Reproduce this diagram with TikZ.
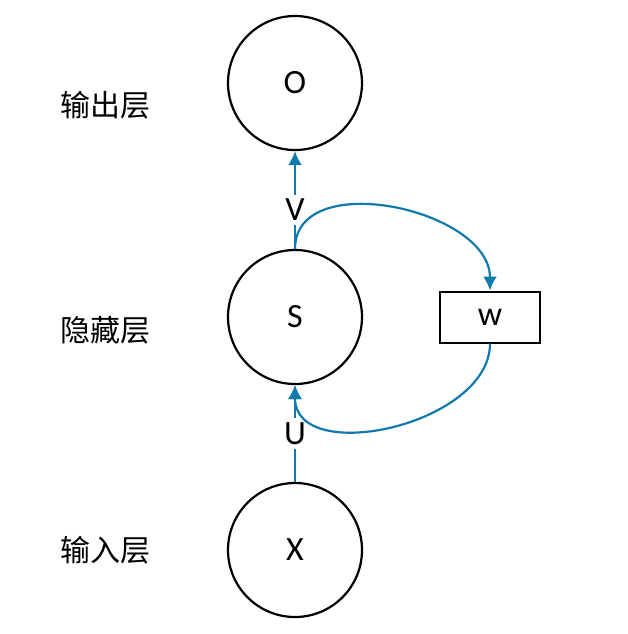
\documentclass[tikz,border=0pt]{standalone}
\usepackage{fontspec}
\setmainfont{Carlito}
\newfontfamily\cjkfont{Noto Sans CJK SC}
\usetikzlibrary{arrows.meta}
\definecolor{LinkClr}{RGB}{16,122,172}

\begin{document}
\begin{tikzpicture}[x=0.5pt,y=-0.5pt,
  unit/.style={circle,draw,line width=1.1pt,minimum size=67pt,inner sep=0pt,font=\fontsize{17}{19}\selectfont},
  wbox/.style={draw,line width=1pt,minimum width=50pt,minimum height=25.5pt,inner sep=0pt,font=\fontsize{17}{19}\selectfont},
  link/.style={draw=LinkClr,line width=1.1pt,-{Latex[length=7pt,width=7pt]}},
  wlabel/.style={fill=white,inner sep=2pt,font=\fontsize{17}{19}\selectfont},
  layername/.style={font=\cjkfont\fontsize{15}{17}\selectfont}]
\useasboundingbox (0,0) rectangle (628,634);

% units
\node[unit] (O) at (295,83) {O};
\node[unit] (S) at (295,317) {S};
\node[unit] (X) at (295,550) {X};
\node[wbox] (W) at (490,317) {w};

% layer names
\node[layername] (outname) at (106,105) {输出层};
\node[layername] (hidname) at (106,330) {隐藏层};
\node[layername] (inname) at (106,550) {输入层};

% connections
\draw[link] (X) -- node[wlabel,pos=0.5] {U} (S);
\draw[link] (S) -- node[wlabel,pos=0.4] {V} (O);
\draw[link] (S.north) to[out=90,in=90,looseness=1.05] (W.north);
\draw[link] (W.south) to[out=-90,in=-90,looseness=1.05] (S.south);

\end{tikzpicture}
\end{document}
